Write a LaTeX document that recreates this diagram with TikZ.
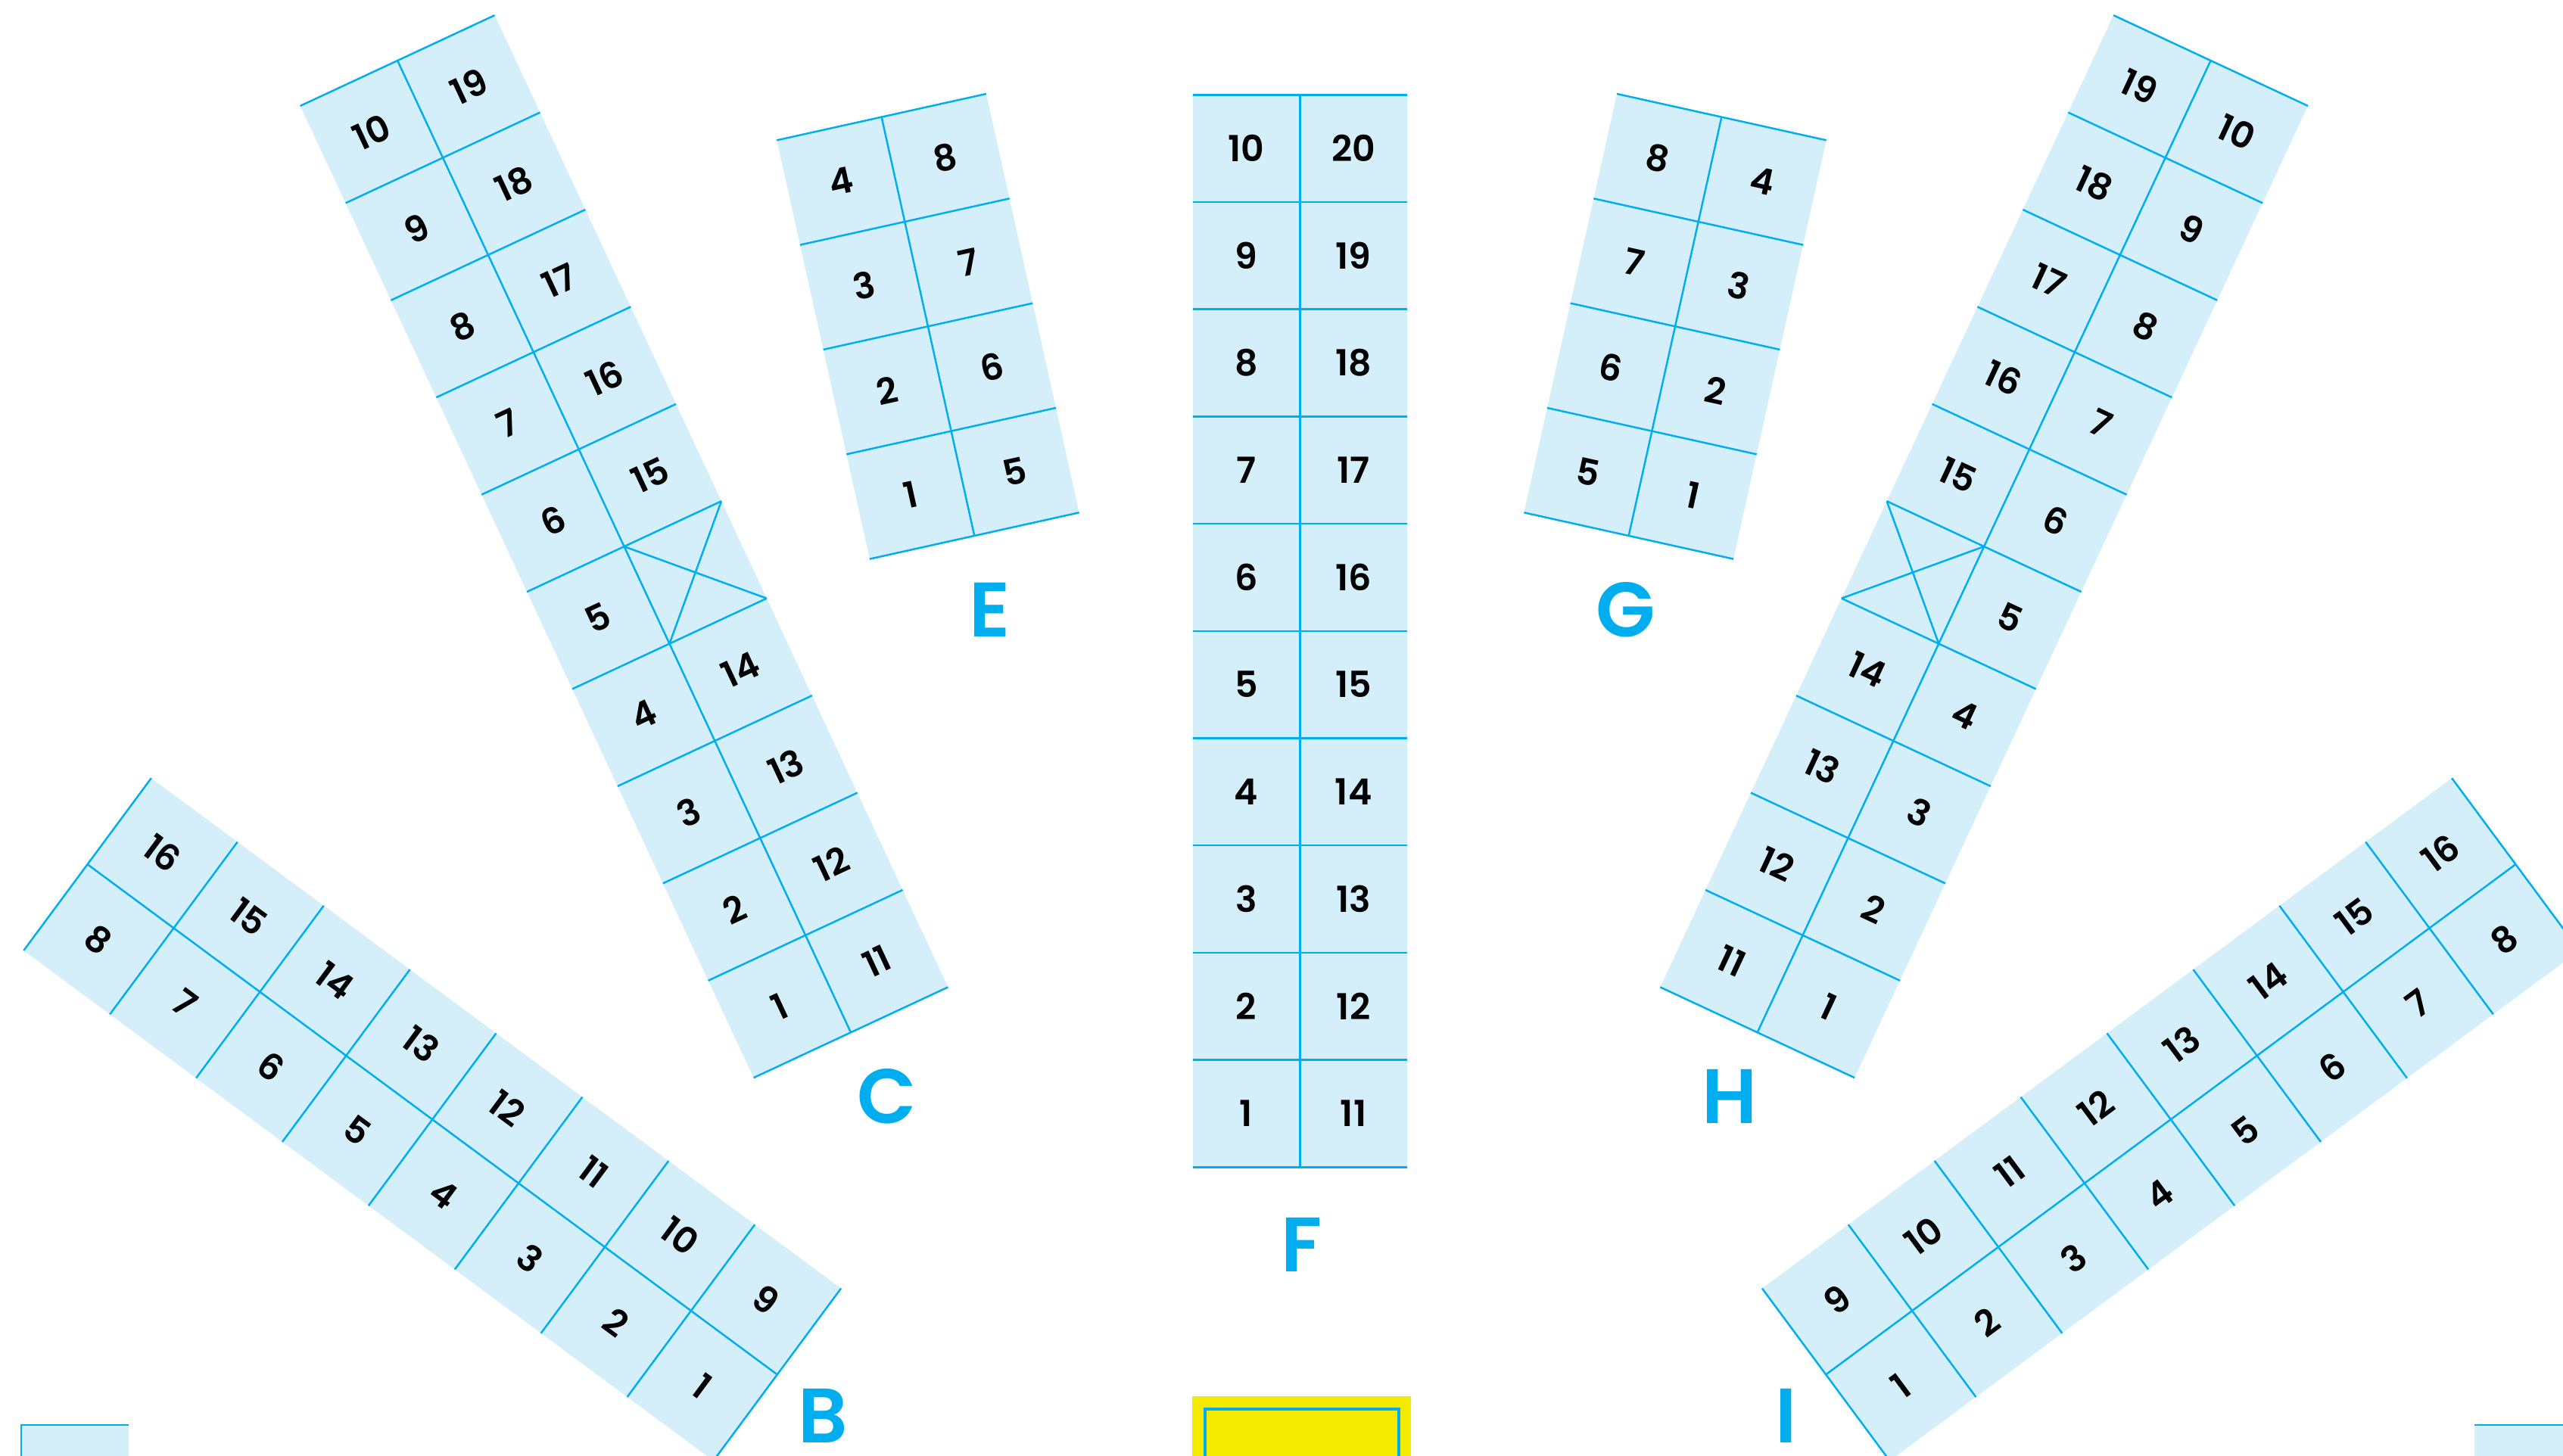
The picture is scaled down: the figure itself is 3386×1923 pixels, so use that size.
\documentclass[tikz,border=0pt]{standalone}
\usepackage{fontspec}
\setmainfont{Poppins}
\newfontfamily\seatfont{Poppins SemiBold}
\newfontfamily\labelfont{Poppins SemiBold}
\usepackage{xcolor}
\usepackage{tikz}
\definecolor{seatline}{HTML}{00AEEF}
\definecolor{seatfill}{HTML}{D4EEFA}
\definecolor{stagefill}{HTML}{F3EA00}
\newcommand\cellw{141.7}

\begin{document}
\begin{tikzpicture}[x=0.01cm, y=0.01cm,
  rowline/.style={draw=seatline, line width=0.7pt},
  block/.style={fill=seatfill},
  seatnum/.style={font=\fontsize{13.5}{16}\seatfont, inner sep=0pt, text=black},
  seclabel/.style={font=\fontsize{29}{32}\labelfont, text=seatline, anchor=base, inner sep=0pt}
]
\useasboundingbox (0,0) rectangle (3386,1923);
\clip (0,0) rectangle (3386,1923);

% F
\begin{scope}[shift={(1717.3,380.7)}]
  \fill[block] (-\cellw,0) rectangle (\cellw,10*\cellw);
  \foreach \r in {0,...,10} \draw[rowline] (-\cellw,\r*\cellw) -- (\cellw,\r*\cellw);
  \draw[rowline] (0,0) -- (0,10*\cellw);
  \foreach \r in {1,...,10} {
    \pgfmathtruncatemacro\rn{\r+10}
    \node[seatnum] (f-\r) at (-0.5*\cellw,\r*\cellw-0.5*\cellw) {\r};
    \node[seatnum] (f-\rn) at (0.5*\cellw,\r*\cellw-0.5*\cellw) {\rn};
  }
\end{scope}

% E and G
\begin{scope}[shift={(1287.3,1215)}, rotate=12.5]
  \fill[block] (-\cellw,0) rectangle (\cellw,4*\cellw);
  \foreach \r in {0,...,4} \draw[rowline] (-\cellw,\r*\cellw) -- (\cellw,\r*\cellw);
  \draw[rowline] (0,0) -- (0,4*\cellw);
  \foreach \r in {1,...,4} {
    \pgfmathtruncatemacro\rn{\r+4}
    \node[seatnum, rotate=12.5] (e-\r) at (-0.5*\cellw,\r*\cellw-0.5*\cellw) {\r};
    \node[seatnum, rotate=12.5] (e-\rn) at (0.5*\cellw,\r*\cellw-0.5*\cellw) {\rn};
  }
\end{scope}
\begin{scope}[shift={(2151.7,1215)}, rotate=-12.5]
  \fill[block] (-\cellw,0) rectangle (\cellw,4*\cellw);
  \foreach \r in {0,...,4} \draw[rowline] (-\cellw,\r*\cellw) -- (\cellw,\r*\cellw);
  \draw[rowline] (0,0) -- (0,4*\cellw);
  \foreach \r in {1,...,4} {
    \pgfmathtruncatemacro\rn{\r+4}
    \node[seatnum, rotate=-12.5] (g-\rn) at (-0.5*\cellw,\r*\cellw-0.5*\cellw) {\rn};
    \node[seatnum, rotate=-12.5] (g-\r) at (0.5*\cellw,\r*\cellw-0.5*\cellw) {\r};
  }
\end{scope}

% C and H
\begin{scope}[shift={(1124,558.7)}, rotate=25]
  \fill[block] (-\cellw,0) rectangle (\cellw,10*\cellw);
  \foreach \r in {0,...,10} \draw[rowline] (-\cellw,\r*\cellw) -- (\cellw,\r*\cellw);
  \draw[rowline] (0,0) -- (0,10*\cellw);
  \draw[rowline] (0,4*\cellw) -- (\cellw,5*\cellw) (0,5*\cellw) -- (\cellw,4*\cellw);
  \foreach \r in {1,...,10}
    \node[seatnum, rotate=25] (c-\r) at (-0.5*\cellw,\r*\cellw-0.5*\cellw) {\r};
  \foreach \n/\r in {11/1,12/2,13/3,14/4,15/6,16/7,17/8,18/9,19/10}
    \node[seatnum, rotate=25] (c-\n) at (0.5*\cellw,\r*\cellw-0.5*\cellw) {\n};
\end{scope}
\begin{scope}[shift={(2321.7,558.7)}, rotate=-25]
  \fill[block] (-\cellw,0) rectangle (\cellw,10*\cellw);
  \foreach \r in {0,...,10} \draw[rowline] (-\cellw,\r*\cellw) -- (\cellw,\r*\cellw);
  \draw[rowline] (0,0) -- (0,10*\cellw);
  \draw[rowline] (-\cellw,4*\cellw) -- (0,5*\cellw) (-\cellw,5*\cellw) -- (0,4*\cellw);
  \foreach \r in {1,...,10}
    \node[seatnum, rotate=-25] (h-\r) at (0.5*\cellw,\r*\cellw-0.5*\cellw) {\r};
  \foreach \n/\r in {11/1,12/2,13/3,14/4,15/6,16/7,17/8,18/9,19/10}
    \node[seatnum, rotate=-25] (h-\n) at (-0.5*\cellw,\r*\cellw-0.5*\cellw) {\n};
\end{scope}

% B and I
\begin{scope}[shift={(1026.8,106.6)}, rotate=53.5]
  \fill[block] (-\cellw,0) rectangle (\cellw,8*\cellw);
  \foreach \r in {0,...,8} \draw[rowline] (-\cellw,\r*\cellw) -- (\cellw,\r*\cellw);
  \draw[rowline] (0,0) -- (0,8*\cellw);
  \foreach \r in {1,...,8} {
    \pgfmathtruncatemacro\rn{\r+8}
    \node[seatnum, rotate=-36.5] (b-\r) at (-0.5*\cellw,\r*\cellw-0.5*\cellw) {\r};
    \node[seatnum, rotate=-36.5] (b-\rn) at (0.5*\cellw,\r*\cellw-0.5*\cellw) {\rn};
  }
\end{scope}
\begin{scope}[shift={(2412.2,106.6)}, rotate=-53.5]
  \fill[block] (-\cellw,0) rectangle (\cellw,8*\cellw);
  \foreach \r in {0,...,8} \draw[rowline] (-\cellw,\r*\cellw) -- (\cellw,\r*\cellw);
  \draw[rowline] (0,0) -- (0,8*\cellw);
  \foreach \r in {1,...,8} {
    \pgfmathtruncatemacro\rn{\r+8}
    \node[seatnum, rotate=36.5] (i-\rn) at (-0.5*\cellw,\r*\cellw-0.5*\cellw) {\rn};
    \node[seatnum, rotate=36.5] (i-\r) at (0.5*\cellw,\r*\cellw-0.5*\cellw) {\r};
  }
\end{scope}

% A and J, cut off
\fill[block] (28,-10) rectangle (170,40);
\draw[rowline] (28,-10) -- (28,40) -- (170,40);
\fill[block] (3269,-10) rectangle (3411,40);
\draw[rowline] (3269,40) -- (3411,40) -- (3411,-10);

% stage
\fill[stagefill] (1575,-10) rectangle (1864,78);
\draw[seatline, line width=1.15pt] (1592,-20) -- (1592,61) -- (1848,61) -- (1848,-20);

\node[seclabel] (lab-b) at (1087,17) {B};
\node[seclabel] (lab-c) at (1172,438) {C};
\node[seclabel] (lab-e) at (1307.5,1081) {E};
\node[seclabel] (lab-f) at (1719.7,242) {F};
\node[seclabel] (lab-g) at (2147.5,1081) {G};
\node[seclabel] (lab-h) at (2285.5,438) {H};
\node[seclabel] (lab-i) at (2360,17) {I};
\end{tikzpicture}
\end{document}
